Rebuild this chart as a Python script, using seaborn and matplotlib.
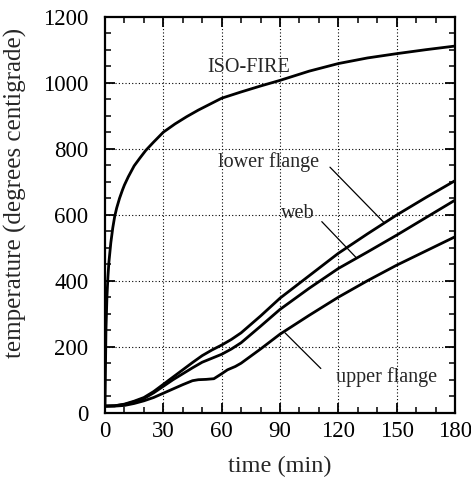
import numpy as np
import pandas as pd
import matplotlib
matplotlib.use("Agg")
import matplotlib.pyplot as plt
import seaborn as sns
from matplotlib.ticker import MultipleLocator

# ---- data ----
iso_t = [0, 0.5, 1, 1.5, 2, 3, 4, 5, 6, 7.5, 9, 10, 12, 15, 18, 21, 25, 30, 36, 42,
         48, 54, 60, 70, 80, 90, 105, 120, 135, 150, 165, 180]
iso_T = [20, 250, 350, 410, 455, 515, 560, 595, 620, 650, 675, 690, 715, 748, 772, 795,
         820, 850, 875, 897, 917, 935, 953, 972, 990, 1007, 1035, 1058, 1075, 1088, 1100, 1111]

lower_t = [0, 5, 10, 15, 20, 25, 30, 35, 40, 45, 50, 55, 60, 65, 70, 80, 90, 105, 120,
           135, 150, 165, 180]
lower_T = [20, 21, 26, 35, 46, 64, 86, 108, 130, 152, 173, 190, 205, 222, 242, 293, 347,
           415, 483, 542, 599, 652, 703]

web_t = [0, 5, 10, 15, 20, 25, 30, 35, 40, 45, 50, 55, 60, 65, 70, 80, 90, 105, 120,
         135, 150, 165, 180]
web_T = [20, 21, 25, 33, 43, 60, 80, 100, 118, 136, 153, 165, 177, 193, 212, 262, 313,
         377, 437, 487, 538, 591, 644]

upper_t = [0, 5, 10, 15, 20, 25, 30, 35, 40, 45, 48, 52, 56, 60, 63, 67, 70, 80, 90,
           105, 120, 135, 150, 165, 180]
upper_T = [20, 20, 22, 28, 36, 46, 59, 72, 85, 97, 100, 101, 103, 118, 130, 140, 150,
           193, 238, 295, 350, 400, 447, 490, 533]

x_ticks = [0, 30, 60, 90, 120, 150, 180]
y_ticks = [0, 200, 400, 600, 800, 1000, 1200]

labels = ["ISO-FIRE", "lower flange", "web", "upper flange"]
label_pos = [(74, 1047), (84, 760), (99, 605), (145, 109)]
leader_lines = [None, ((115.7, 744), (143.2, 578)), ((111.5, 579), (129.5, 468)),
                ((111.0, 134), (92.6, 242))]

df = pd.concat([
    pd.DataFrame({"t": iso_t, "T": iso_T, "s": "ISO-FIRE"}),
    pd.DataFrame({"t": lower_t, "T": lower_T, "s": "lower flange"}),
    pd.DataFrame({"t": web_t, "T": web_T, "s": "web"}),
    pd.DataFrame({"t": upper_t, "T": upper_T, "s": "upper flange"}),
], ignore_index=True)

sns.set_style("ticks")
plt.rcParams["font.family"] = ["Liberation Serif", "DejaVu Serif"]

fig = plt.figure(figsize=(4.71, 4.84), dpi=100)
ax = fig.add_axes([0.2229, 0.1473, 0.966 - 0.2229, 0.9655 - 0.1473])

sns.lineplot(data=df, x="t", y="T", units="s", estimator=None, color="black",
             linewidth=2.0, ax=ax, legend=False, sort=False)

ax.set_xlim(0, 180)
ax.set_ylim(0, 1200)
ax.set_xticks(x_ticks)
ax.set_yticks(y_ticks)
ax.xaxis.set_minor_locator(MultipleLocator(10))
ax.yaxis.set_minor_locator(MultipleLocator(50))
ax.tick_params(which="both", direction="in", top=True, right=True, colors="black")
ax.tick_params(which="major", length=7, width=1.3, labelsize=16.5)
ax.tick_params(which="minor", length=4, width=1.1)
ax.tick_params(axis="y", which="major", pad=12)
ax.tick_params(axis="x", which="major", pad=6)
for sp in ax.spines.values():
    sp.set_linewidth(1.6)
    sp.set_color("black")
    sp.set_visible(True)

for v in x_ticks[1:-1]:
    ax.axvline(v, color="black", linestyle=(0, (1, 2)), linewidth=0.8, zorder=0)
for v in y_ticks[1:-1]:
    ax.axhline(v, color="black", linestyle=(0, (1, 2)), linewidth=0.8, zorder=0)

ax.set_xlabel("time (min)", fontsize=17.5, labelpad=10)
ax.set_ylabel("temperature (degrees centigrade)", fontsize=18)
ax.yaxis.set_label_coords(-0.222, 0.555)

for lab, (px, py), ln in zip(labels, label_pos, leader_lines):
    ax.text(px, py, lab, fontsize=14.5, ha="center", va="center")
    if ln is not None:
        ax.plot([ln[0][0], ln[1][0]], [ln[0][1], ln[1][1]], color="black", linewidth=0.9)

fig.savefig("out.png", dpi=100)
